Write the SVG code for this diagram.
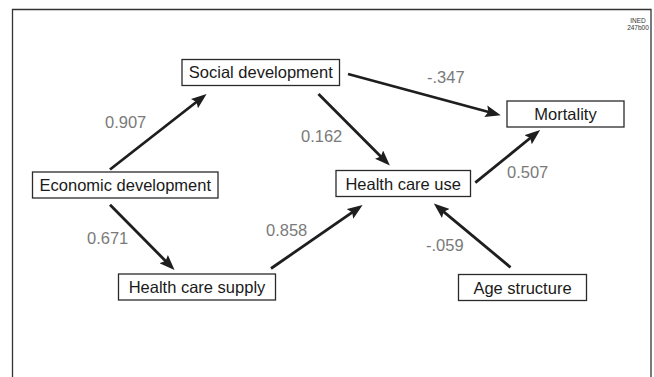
<svg xmlns="http://www.w3.org/2000/svg" width="654" height="377" viewBox="0 0 654 377">
<style>
.box{fill:#fff;stroke:#2a2a2a;stroke-width:1.3}
.lbl{font-family:"Liberation Sans",Arial,sans-serif;font-size:16.5px;fill:#1a1a1a;text-anchor:middle}
.coef{font-family:"Liberation Sans",Arial,sans-serif;font-size:16.5px;fill:#7a7a7a}
.edge{stroke:#1e1e1e;stroke-width:2.8;fill:none;marker-end:url(#ah)}
.tag{font-family:"Liberation Sans",Arial,sans-serif;font-size:6.5px;fill:#333;text-anchor:middle}
</style>
<defs>
<marker id="ah" markerUnits="userSpaceOnUse" markerWidth="16" markerHeight="12" refX="10" refY="5.5" orient="auto" viewBox="0 0 15 11">
<path d="M0,0 L14.5,5.5 L0,11 L2.5,5.5 z" fill="#1e1e1e"/>
</marker>
</defs>
<rect x="0" y="0" width="654" height="377" fill="#fff"/>
<path d="M12.5,380 L12.5,9.5 L651,9.5 L651,380" fill="none" stroke="#333" stroke-width="1.3"/>
<text class="tag" x="638" y="23">INED</text>
<text class="tag" x="638" y="30">247b00</text>

<g id="connectors">
<line class="edge" x1="110" y1="169.5" x2="202.8" y2="97"/>
<line class="edge" x1="318.5" y1="94" x2="386.5" y2="162.2"/>
<line class="edge" x1="348" y1="74" x2="496.1" y2="114"/>
<line class="edge" x1="475.3" y1="182.7" x2="536.4" y2="133"/>
<line class="edge" x1="110" y1="204.7" x2="171.2" y2="266.7"/>
<line class="edge" x1="271" y1="268.5" x2="358.7" y2="207.8"/>
<line class="edge" x1="510.5" y1="267.3" x2="437.5" y2="206.6"/>
<text class="coef" x="105" y="128">0.907</text>
<text class="coef" x="427" y="83">-.347</text>
<text class="coef" x="301" y="142">0.162</text>
<text class="coef" x="507" y="178">0.507</text>
<text class="coef" x="87" y="244">0.671</text>
<text class="coef" x="266" y="236">0.858</text>
<text class="coef" x="426" y="251">-.059</text>
</g>

<g id="social">
<rect class="box" x="182" y="59.5" width="157.5" height="26"/>
<text class="lbl" x="260.8" y="78">Social development</text>
</g>
<g id="mortality">
<rect class="box" x="507" y="101" width="117" height="26"/>
<text class="lbl" x="565.5" y="120">Mortality</text>
</g>
<g id="economic">
<rect class="box" x="32.5" y="172" width="185.5" height="26"/>
<text class="lbl" x="125.3" y="191">Economic development</text>
</g>
<g id="healthuse">
<rect class="box" x="336" y="170.5" width="134.5" height="26"/>
<text class="lbl" x="403.2" y="189.5">Health care use</text>
</g>
<g id="supply">
<rect class="box" x="118.5" y="274" width="157" height="26"/>
<text class="lbl" x="197" y="293">Health care supply</text>
</g>
<g id="age">
<rect class="box" x="458.5" y="274.5" width="128" height="26"/>
<text class="lbl" x="522.5" y="293.5">Age structure</text>
</g>
</svg>
